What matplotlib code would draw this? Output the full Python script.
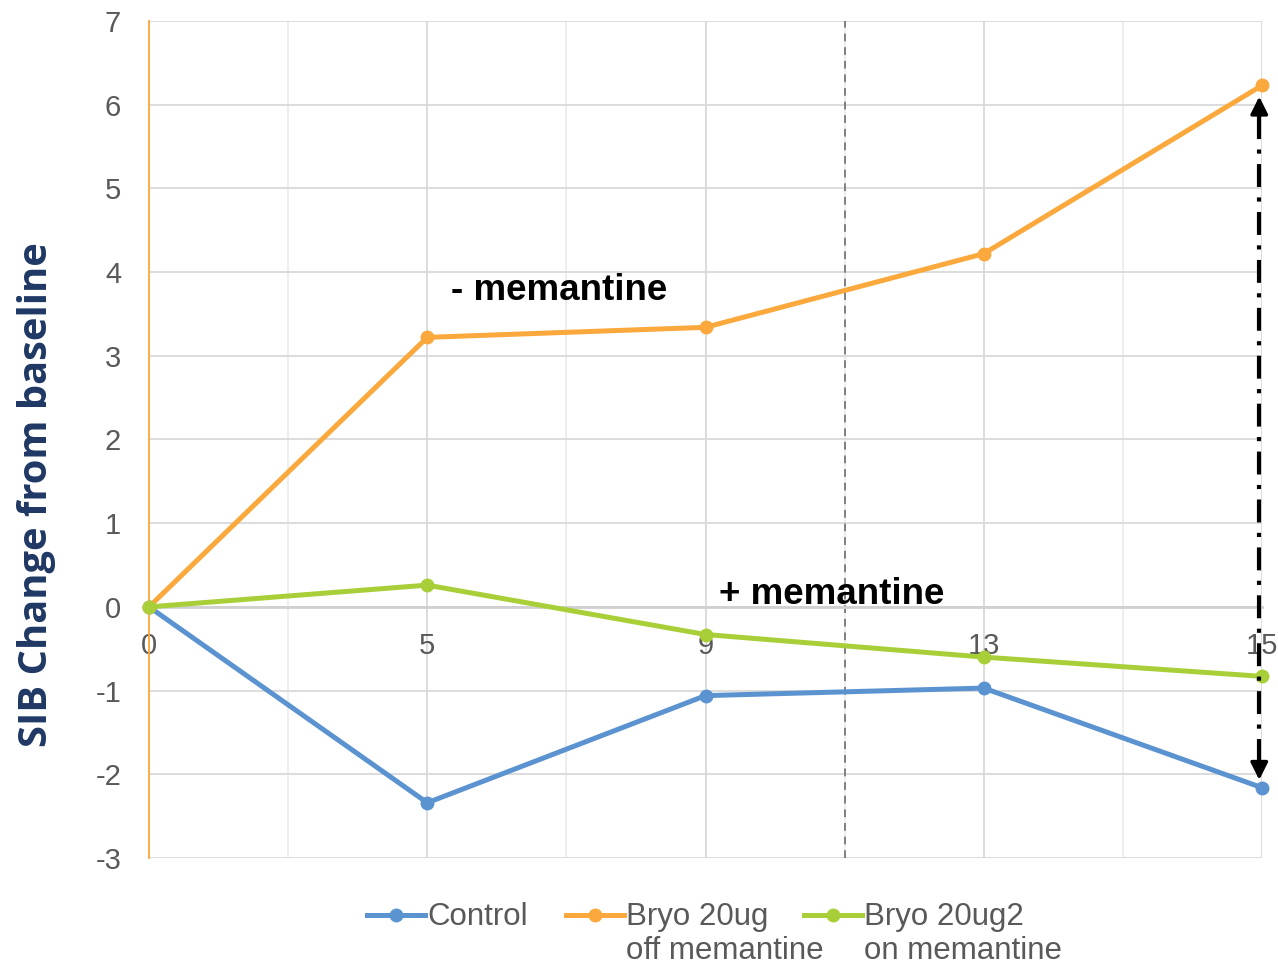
import matplotlib.pyplot as plt
from matplotlib.lines import Line2D

plt.rcParams['font.family'] = ['Liberation Sans', 'DejaVu Sans']
plt.rcParams['axes.unicode_minus'] = False

# Data
weeks = ['0', '5', '9', '13', '15']
control = [0, -2.34, -1.06, -0.97, -2.16]
bryo_off = [0, 3.22, 3.34, 4.22, 6.23]
bryo_on = [0, 0.26, -0.33, -0.60, -0.83]
series_names = ['Control', 'Bryo 20ug\noff memantine', 'Bryo 20ug2\non memantine']

blue = '#5B93D1'
orange = '#FBA83C'
green = '#A8CF38'
grey_text = '#595959'

fig = plt.figure(figsize=(12.78, 9.66), dpi=100)
ax = fig.add_axes([0.1166, 0.1118, 0.8709, 0.8665])

x = list(range(len(weeks)))
for vals, col, z in [(control, blue, 4), (bryo_off, orange, 4), (bryo_on, green, 5)]:
    ax.plot(x, vals, color=col, lw=3.6, marker='o', ms=9, zorder=z, clip_on=False)

ax.set_xlim(0, 4)
ax.set_ylim(-3, 7)
ax.set_xticks(x)
ax.set_xticklabels(weeks)
ax.set_xticks([0.5, 1.5, 2.5, 3.5], minor=True)
ax.set_yticks(range(-3, 8))

# grid
ax.grid(axis='y', which='major', color='#D9D9D9', lw=1.3)
ax.grid(axis='x', which='major', color='#D9D9D9', lw=1.3)
ax.grid(axis='x', which='minor', color='#EDEDED', lw=1.3)
ax.set_axisbelow(True)

# spines
ax.spines['top'].set_visible(False)
ax.spines['right'].set_visible(False)
ax.spines['left'].set_color(orange)
ax.spines['left'].set_linewidth(1.3)
ax.spines['bottom'].set_position(('data', 0))
ax.spines['bottom'].set_color('#D0D0D0')
ax.spines['bottom'].set_linewidth(2)

ax.tick_params(axis='both', which='both', length=0, labelsize=21, labelcolor=grey_text)
ax.tick_params(axis='x', pad=18)
ax.tick_params(axis='y', pad=20)

ax.set_ylabel('SIB Change from baseline', fontsize=28.7, fontweight='bold',
              color='#1F3864', family=['Open Sans', 'DejaVu Sans'])
ax.yaxis.set_label_coords(-0.0835, 0.434)

# dashed separator between 9 and 13
ax.axvline(2.5, color='#808080', lw=1.4, ls=(0, (4, 3)), zorder=2)

# annotations
ax.text(1.085, 3.78, '- memantine', fontsize=26.5, fontweight='bold', va='center')
ax.text(2.05, 0.15, '+ memantine', fontsize=26.5, fontweight='bold', va='center')

# double-headed dash-dot arrow at week 15
ax_x = 3.99
top, bot = bryo_off[-1] - 0.1, control[-1] + 0.06
ax.plot([ax_x, ax_x], [bot + 0.25, top - 0.25], color='black', lw=3,
        dashes=(5.5, 2.5, 1, 2.5), clip_on=False, zorder=6)
ax.annotate('', xy=(ax_x, top), xytext=(ax_x, top - 0.3),
            arrowprops=dict(arrowstyle='-|>', color='black', lw=2.5, mutation_scale=26),
            annotation_clip=False, zorder=6)
ax.annotate('', xy=(ax_x, bot), xytext=(ax_x, bot + 0.3),
            arrowprops=dict(arrowstyle='-|>', color='black', lw=2.5, mutation_scale=26),
            annotation_clip=False, zorder=6)

# legend drawn by hand so the handle lines up with the first text line
W, H = 1278, 966
for name, col, x0 in zip(series_names, [blue, orange, green], [367, 566, 804]):
    fy = 1 - 915 / H
    fig.add_artist(Line2D([x0 / W, (x0 + 58) / W], [fy, fy], color=col, lw=3.6))
    fig.add_artist(Line2D([(x0 + 29) / W], [fy], color=col, marker='o', ms=9))
    fig.text((x0 + 60) / W, 1 - 902 / H, name, fontsize=22.5, color=grey_text,
             va='top', ha='left', linespacing=1.16)

fig.savefig('out.png', dpi=100)
